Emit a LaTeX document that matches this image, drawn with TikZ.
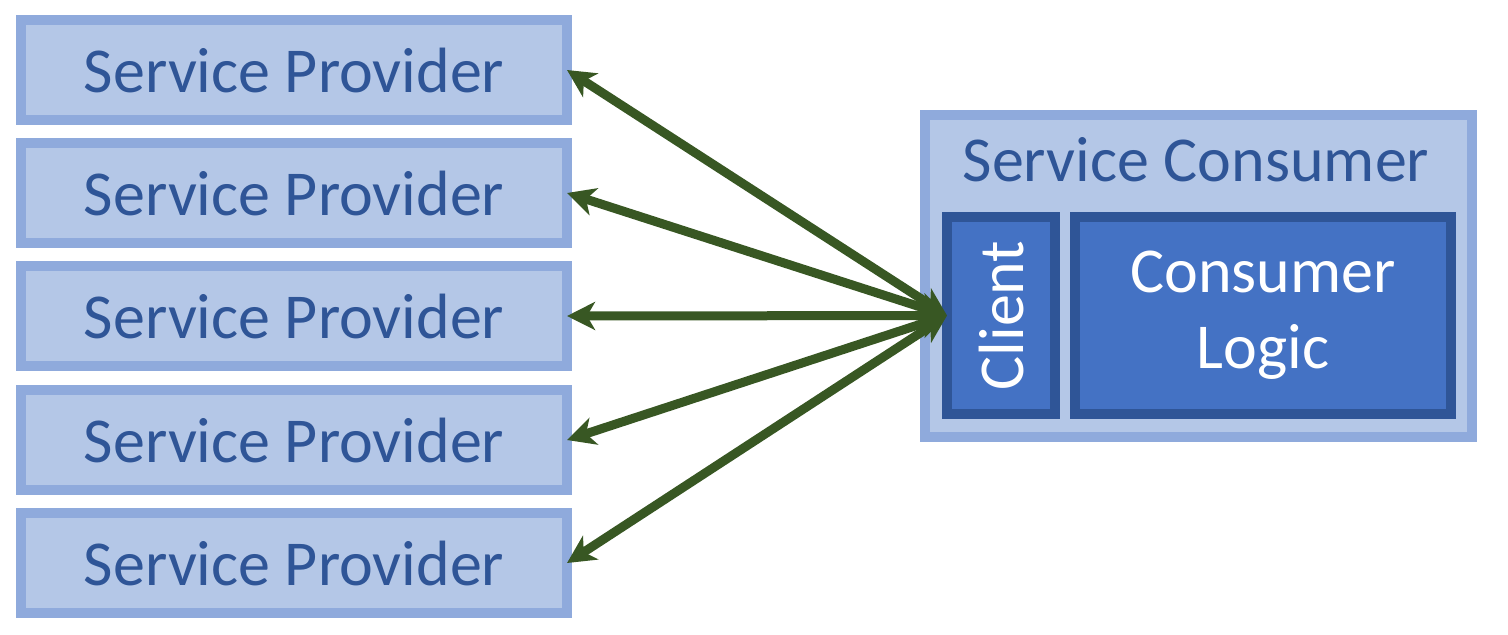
\documentclass[tikz,border=0pt]{standalone}
\usepackage{fontspec}
\setmainfont{Carlito}
\usetikzlibrary{arrows.meta}
\definecolor{provfill}{HTML}{B4C7E7}
\definecolor{provline}{HTML}{8FAADC}
\definecolor{provtext}{HTML}{2F5597}
\definecolor{logicfill}{HTML}{4472C4}
\definecolor{linkgreen}{HTML}{385723}
\begin{document}
\begin{tikzpicture}[x=0.5pt, y=-0.5pt,
	lightbox/.style={draw=provline, fill=provfill, line width=5pt, outer sep=0pt, inner sep=0pt},
	provider/.style={lightbox, minimum width=273pt, minimum height=50pt, text=provtext, font=\fontsize{32}{38}\selectfont},
	darkbox/.style={draw=provtext, fill=logicfill, line width=5pt, outer sep=0pt, inner sep=0pt, text=white, font=\fontsize{32}{38}\selectfont},
	link/.style={draw=linkgreen, line width=4.5pt, {Stealth[length=14pt, width=14pt, inset=4pt]}-{Stealth[length=14pt, width=14pt, inset=4pt]}}]
	\useasboundingbox (0,0) rectangle (1508,634);
	\node[provider] (p1) at (294,70) {Service Provider};
	\node[provider] (p2) at (294,193) {Service Provider};
	\node[provider] (p3) at (294,316) {Service Provider};
	\node[provider] (p4) at (294,440) {Service Provider};
	\node[provider] (p5) at (294,563) {Service Provider};
	\node[lightbox, minimum width=273.5pt, minimum height=161pt] (cons) at (1198.5,276) {};
	\node[text=provtext, font=\fontsize{32}{38}\selectfont] (constitle) at (1196,160) {Service Consumer};
	\node[darkbox, minimum width=54pt, minimum height=98.5pt] (client) at (1001,315.5) {};
	\node[text=white, font=\fontsize{32}{38}\selectfont, rotate=90] (clientlbl) at (client.center) {Client};
	\node[darkbox, minimum width=188pt, minimum height=98.5pt, align=center] (logic) at (1263,315.5) {Consumer\\Logic};
	\draw[link] (client.west) -- (p1.east);
	\draw[link] (client.west) -- (p2.east);
	\draw[link] (client.west) -- (p3.east);
	\draw[link] (client.west) -- (p4.east);
	\draw[link] (client.west) -- (p5.east);
\end{tikzpicture}
\end{document}
